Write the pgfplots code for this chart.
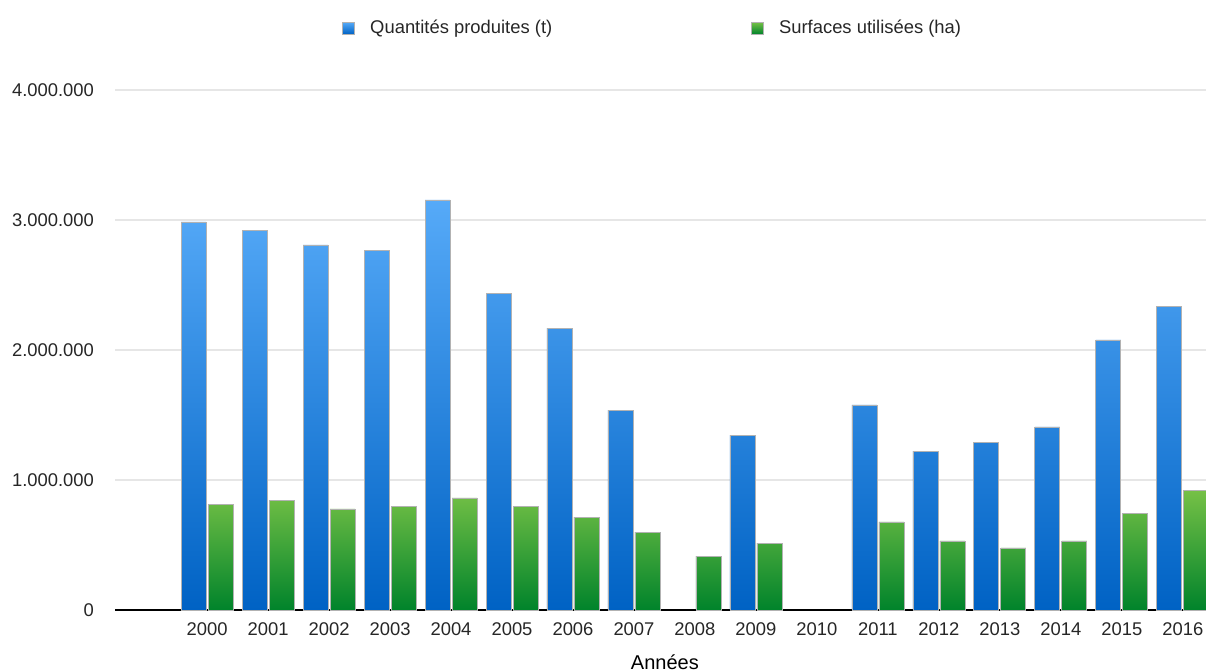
\documentclass[border=0pt]{standalone}
\usepackage{pgfplots}
\pgfplotsset{compat=1.18}
\usepackage{fontspec}
\setmainfont{Liberation Sans}
\definecolor{btop}{HTML}{56AAF8}
\definecolor{bbot}{HTML}{0062C4}
\definecolor{gtop}{HTML}{76C146}
\definecolor{gbot}{HTML}{00832B}
\definecolor{gridc}{HTML}{E6E6E6}
\begin{document}
\begin{tikzpicture}
\begin{axis}[
  at={(57.5pt,30.5pt)}, anchor=south west,
  scale only axis, width=545.5pt, height=260pt,
  xmin=-1.51, xmax=16.38, ymin=0, ymax=4000000,
  axis x line*=bottom, axis y line*=left,
  x axis line style={-, line width=0.75pt, black},
  y axis line style={draw=none},
  major tick length=0pt,
  xtick={0,...,16},
  xticklabels={2000,2001,2002,2003,2004,2005,2006,2007,2008,2009,2010,2011,2012,2013,2014,2015,2016},
  ytick={0,1000000,2000000,3000000,4000000},
  scaled y ticks=false,
  /pgf/number format/fixed,
  /pgf/number format/1000 sep={.},
  /pgf/number format/assume math mode=true,
  tick label style={font=\fontsize{9.2pt}{11pt}\selectfont, text=black!85},
  yticklabel style={xshift=-7pt},
  xticklabel style={yshift=-3pt},
  ymajorgrids, grid style={gridc, line width=1pt},
  xlabel={Années},
  every axis x label/.style={at={(axis description cs:0.504,0)}, anchor=center, yshift=-26pt, font=\fontsize{10pt}{12pt}\selectfont},
  ybar, bar width=12.5pt,
  legend columns=2,
  legend style={at={(axis description cs:0.2026,1.119)}, anchor=west, draw=none, fill=none,
    font=\fontsize{9.2pt}{11pt}\selectfont, text=black!85,
    /tikz/every odd column/.append style={column sep=5.5pt},
    /tikz/every even column/.append style={column sep=97.5pt}},
  legend image code/.code={\draw[#1] (0pt,-3pt) rectangle (6pt,3pt);},
]
\addplot[bar shift=-6.75pt, top color=btop, bottom color=bbot, draw=black!30, line width=0.4pt] coordinates {
(0,2985000) (1,2923000) (2,2808000) (3,2769000) (4,3154000) (5,2438000) (6,2169000) (7,1538000)
(9,1346000) (11,1577000) (12,1223000) (13,1292000) (14,1408000) (15,2077000) (16,2338000)};
\addplot[bar shift=6.75pt, top color=gtop, bottom color=gbot, draw=black!30, line width=0.4pt] coordinates {
(0,815000) (1,846000) (2,777000) (3,800000) (4,862000) (5,800000) (6,715000) (7,600000)
(8,415000) (9,515000) (11,677000) (12,531000) (13,477000) (14,531000) (15,746000) (16,923000)};
\legend{Quantités produites (t), Surfaces utilisées (ha)}
\end{axis}
\pgfresetboundingbox
\useasboundingbox (0,0) rectangle (603pt,335.5pt);
\end{tikzpicture}
\end{document}
